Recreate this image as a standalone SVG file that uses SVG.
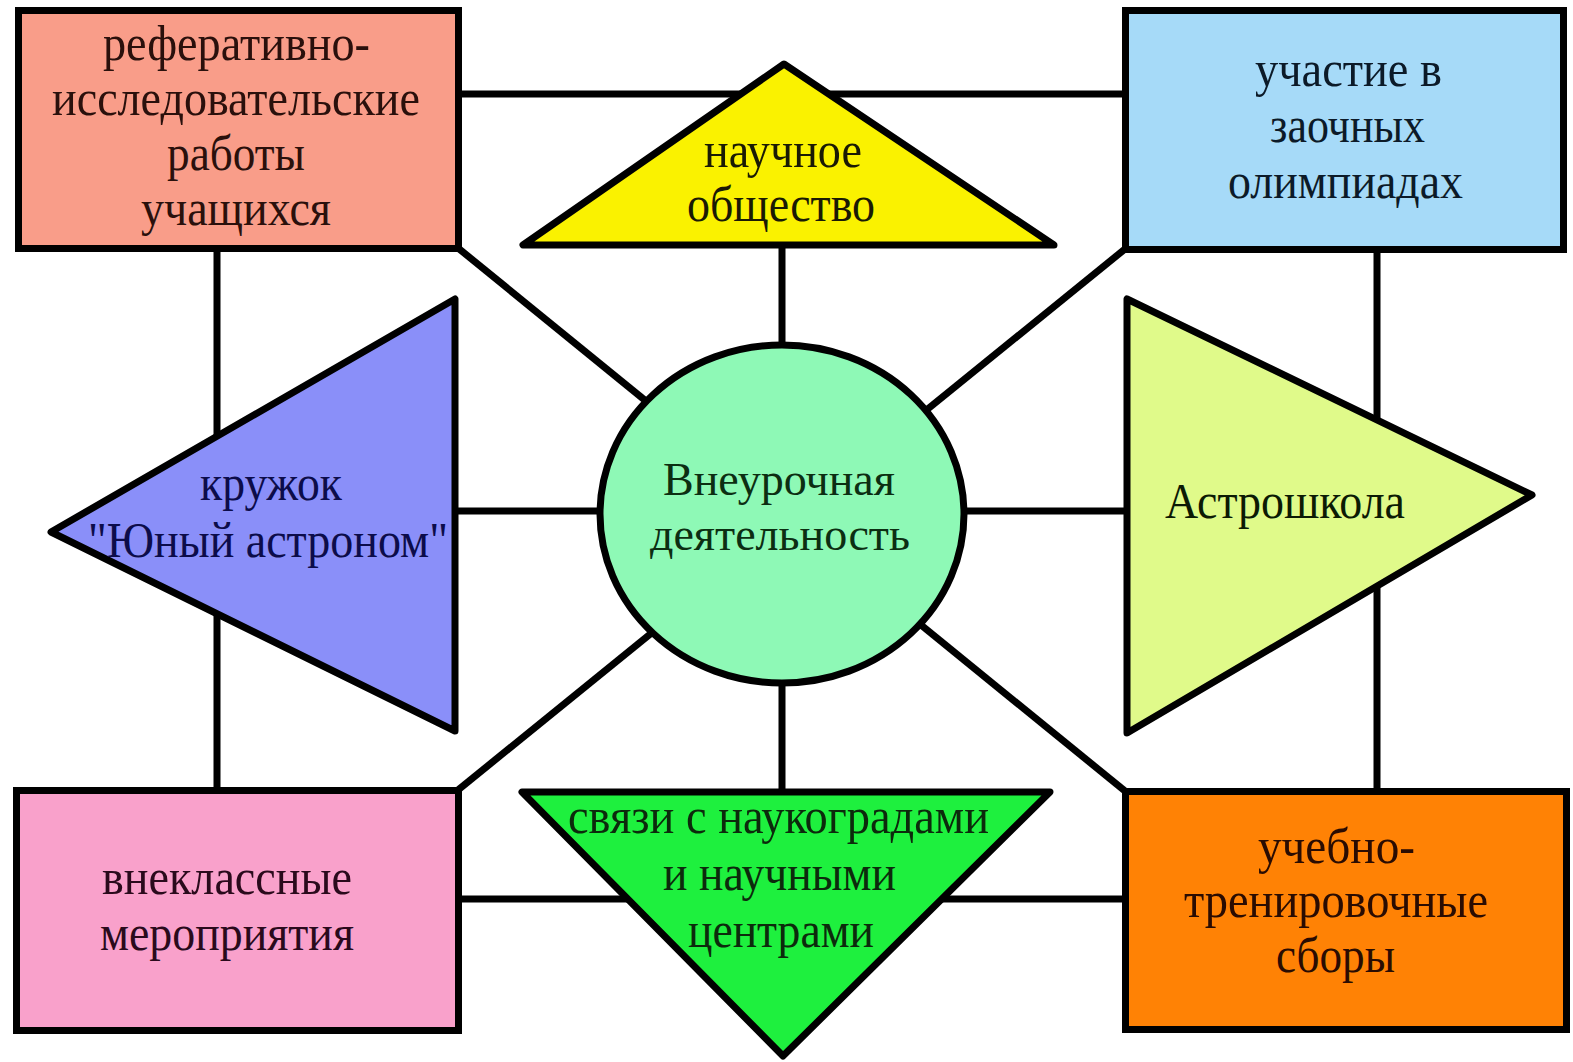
<svg xmlns="http://www.w3.org/2000/svg" width="1573" height="1062" viewBox="0 0 1573 1062">
<style>
.ln{stroke:#000;stroke-width:7;fill:none}
.bx{stroke:#000;stroke-width:7;stroke-linejoin:miter}
.tr{stroke:#000;stroke-width:7;stroke-linejoin:round}
text{font-family:"Liberation Serif","Times New Roman",serif;font-size:50px}
.sm{font-size:46px}
</style>
<rect width="1573" height="1062" fill="#fff"/>
<g id="connectors">
<line class="ln" x1="458" y1="94" x2="1125" y2="94"/>
<line class="ln" x1="455" y1="511" x2="1127" y2="511"/>
<line class="ln" x1="458" y1="899" x2="1125" y2="899"/>
<line class="ln" x1="217" y1="248" x2="217" y2="790"/>
<line class="ln" x1="1377" y1="249" x2="1377" y2="791"/>
<line class="ln" x1="782" y1="245" x2="782" y2="792"/>
<line class="ln" x1="458" y1="248" x2="1125" y2="791"/>
<line class="ln" x1="1125" y1="249" x2="458" y2="790"/>
</g>
<g id="node-research">
<rect class="bx" x="18.5" y="10.5" width="440" height="238" fill="#F99D89"/>
<g fill="#2a100c">
<text x="103" y="60" textLength="267" lengthAdjust="spacingAndGlyphs">реферативно-</text>
<text x="52" y="115" textLength="368" lengthAdjust="spacingAndGlyphs">исследовательские</text>
<text x="167" y="170" textLength="138" lengthAdjust="spacingAndGlyphs">работы</text>
<text x="141" y="225" textLength="190" lengthAdjust="spacingAndGlyphs">учащихся</text>
</g>
</g>
<g id="node-olympiads">
<rect class="bx" x="1125.5" y="10.5" width="438" height="239" fill="#A6DAF8"/>
<g fill="#0c1a28">
<text x="1255" y="86" textLength="187" lengthAdjust="spacingAndGlyphs">участие в</text>
<text x="1270" y="142" textLength="155" lengthAdjust="spacingAndGlyphs">заочных</text>
<text x="1228" y="198" textLength="235" lengthAdjust="spacingAndGlyphs">олимпиадах</text>
</g>
</g>
<g id="node-society">
<polygon class="tr" points="784,64 523,245 1054,245" fill="#FAF200"/>
<g fill="#1a1a04">
<text x="704" y="167" textLength="158" lengthAdjust="spacingAndGlyphs">научное</text>
<text x="687" y="221" textLength="188" lengthAdjust="spacingAndGlyphs">общество</text>
</g>
</g>
<g id="node-club">
<polygon class="tr" points="455,299 455,731 51,532" fill="#8A8FF9"/>
<g fill="#0c0c4a">
<text x="200" y="500" textLength="142" lengthAdjust="spacingAndGlyphs">кружок</text>
<text x="88" y="557" textLength="360" lengthAdjust="spacingAndGlyphs">"Юный астроном"</text>
</g>
</g>
<g id="node-astroschool">
<polygon class="tr" points="1127,299 1127,733 1532,495" fill="#E0FA8A"/>
<text x="1165" y="518" textLength="240" lengthAdjust="spacingAndGlyphs" fill="#0c1a04">Астрошкола</text>
</g>
<g id="node-center">
<ellipse class="bx" cx="782" cy="514" rx="182" ry="169" fill="#8EF9B6"/>
<g fill="#0c2e12">
<text class="sm" x="663" y="495" textLength="232" lengthAdjust="spacingAndGlyphs">Внеурочная</text>
<text class="sm" x="650" y="550" textLength="260" lengthAdjust="spacingAndGlyphs">деятельность</text>
</g>
</g>
<g id="node-events">
<rect class="bx" x="16.5" y="790.5" width="442" height="240" fill="#F9A1CB"/>
<g fill="#2a0a1c">
<text x="102" y="894" textLength="250" lengthAdjust="spacingAndGlyphs">внеклассные</text>
<text x="100" y="950" textLength="254" lengthAdjust="spacingAndGlyphs">мероприятия</text>
</g>
</g>
<g id="node-sciencecities">
<polygon class="tr" points="522,792 1050,792 783,1056" fill="#1EF03E"/>
<g fill="#0c2a0c">
<text x="568" y="833" textLength="421" lengthAdjust="spacingAndGlyphs">связи с наукоградами</text>
<text x="663" y="890" textLength="233" lengthAdjust="spacingAndGlyphs">и научными</text>
<text x="688" y="947" textLength="186" lengthAdjust="spacingAndGlyphs">центрами</text>
</g>
</g>
<g id="node-training">
<rect class="bx" x="1125.5" y="791.5" width="441" height="238" fill="#FF8205"/>
<g fill="#2a0c02">
<text x="1258" y="863" textLength="157" lengthAdjust="spacingAndGlyphs">учебно-</text>
<text x="1184" y="917" textLength="304" lengthAdjust="spacingAndGlyphs">тренировочные</text>
<text x="1276" y="972" textLength="119" lengthAdjust="spacingAndGlyphs">сборы</text>
</g>
</g>
</svg>
